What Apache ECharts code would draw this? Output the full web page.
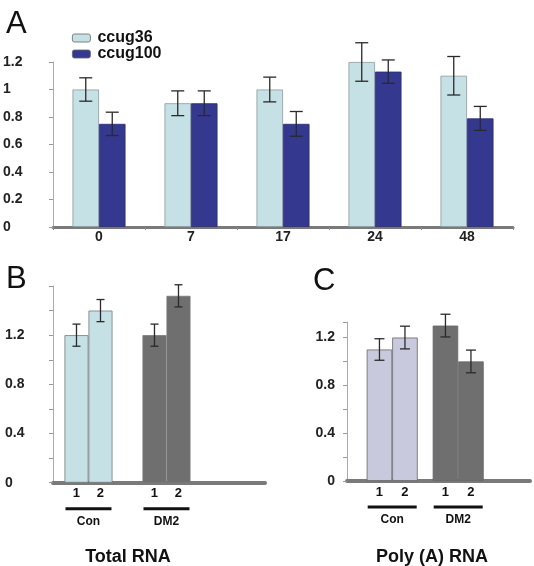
<!DOCTYPE html>
<html>
<head>
<meta charset="utf-8">
<script src="https://cdn.jsdelivr.net/npm/echarts@6/dist/echarts.min.js"></script>
<style>html,body{margin:0;padding:0;background:#fff}#c{width:534px;height:566px}</style>
</head>
<body>
<div id="c"></div>
<script>
// Panel A
var timepoints = ['0', '7', '17', '24', '48'];
var ccug36 = [1.0, 0.9, 1.0, 1.2, 1.1];
var ccug36Err = [0.085, 0.09, 0.09, 0.14, 0.14];
var ccug100 = [0.75, 0.9, 0.75, 1.13, 0.79];
var ccug100Err = [0.085, 0.09, 0.09, 0.085, 0.087];
// Panel B (Total RNA)
var groups = ['Con', 'DM2'];
var replicates = ['1', '2'];
var totalRep1 = [1.2, 1.2];
var totalRep1Err = [0.09, 0.09];
var totalRep2 = [1.4, 1.52];
var totalRep2Err = [0.09, 0.09];
// Panel C (Poly (A) RNA)
var polyRep1 = [1.1, 1.3];
var polyRep1Err = [0.09, 0.095];
var polyRep2 = [1.2, 1.0];
var polyRep2Err = [0.095, 0.095];
// labelled y ticks for panels B and C
var bcTickLabels = [0, 0.4, 0.8, 1.2];

var FONT = 'Liberation Sans';
var chart = echarts.init(document.getElementById('c'), null, {renderer: 'canvas'});

function errSeries(name, xIdx, yIdx, vals, errs, offset, half) {
  return {
    type: 'custom', name: name, xAxisIndex: xIdx, yAxisIndex: yIdx, z: 10, silent: true,
    data: vals.map(function (v, i) { return [i, v, errs[i]]; }),
    renderItem: function (params, api) {
      var x = api.value(0), v = api.value(1), e = api.value(2);
      var top = api.coord([x, v + e]);
      var bot = api.coord([x, v - e]);
      var cx = top[0] + offset;
      var st = {stroke: '#2a2a2a', lineWidth: 1.3};
      return {type: 'group', children: [
        {type: 'line', shape: {x1: cx, y1: top[1], x2: cx, y2: bot[1]}, style: st},
        {type: 'line', shape: {x1: cx - half, y1: top[1], x2: cx + half, y2: top[1]}, style: st},
        {type: 'line', shape: {x1: cx - half, y1: bot[1], x2: cx + half, y2: bot[1]}, style: st}
      ]};
    }
  };
}

function colored(vals, colors) {
  return vals.map(function (v, i) { return {value: [i, v], itemStyle: {color: colors[i]}}; });
}

var yLab = {fontFamily: FONT, fontWeight: 'bold', fontSize: 14, color: '#222'};
function bcLabel(v) {
  for (var i = 0; i < bcTickLabels.length; i++) {
    if (Math.abs(v - bcTickLabels[i]) < 1e-6) return v === 0 ? '0' : bcTickLabels[i].toFixed(1);
  }
  return '';
}

function groupLabelAxis(gridIdx, min, max, bw) {
  return {
    type: 'value', gridIndex: gridIdx, min: min, max: max,
    axisLine: {show: true, onZero: false, lineStyle: {color: '#7a7a7a', width: 4}},
    axisTick: {show: false}, splitLine: {show: false},
    axisLabel: {
      show: true, customValues: [0, 1], margin: 2,
      formatter: function (v) {
        var g = groups[Math.round(v)];
        return '{a|' + replicates[0] + '}{b|' + replicates[1] + '}\n{u| }\n{g|' + g + '}';
      },
      rich: {
        a: {width: bw, align: 'center', fontFamily: FONT, fontWeight: 'bold', fontSize: 13, color: '#111', lineHeight: 18},
        b: {width: bw, align: 'center', fontFamily: FONT, fontWeight: 'bold', fontSize: 13, color: '#111', lineHeight: 18},
        u: {width: bw * 2 - 2, height: 3, backgroundColor: '#111', fontSize: 1, lineHeight: 12},
        g: {align: 'center', fontFamily: FONT, fontWeight: 'bold', fontSize: 12, color: '#111', lineHeight: 14}
      }
    }
  };
}

function yAxisFor(gridIdx, max, labelCfg) {
  return {
    type: 'value', gridIndex: gridIdx, min: 0, max: max, interval: 0.2,
    axisLine: {show: true, onZero: false, lineStyle: {color: '#aaa', width: 1}},
    axisTick: {show: true, length: 4, lineStyle: {color: '#999'}},
    splitLine: {show: false},
    axisLabel: Object.assign(labelCfg, yLab)
  };
}

var option = {
  backgroundColor: '#fff',
  animation: false,
  title: [
    {text: 'A', left: 1, top: 4, textStyle: {fontFamily: FONT, fontWeight: 'normal', fontSize: 31, color: '#111'}},
    {text: 'B', left: 1, top: 259, textStyle: {fontFamily: FONT, fontWeight: 'normal', fontSize: 31, color: '#111'}},
    {text: 'C', left: 308, top: 261, textStyle: {fontFamily: FONT, fontWeight: 'normal', fontSize: 31, color: '#111'}},
    {text: 'Total RNA', left: 123, top: 543, textAlign: 'center', textStyle: {fontFamily: FONT, fontWeight: 'bold', fontSize: 18, color: '#111'}},
    {text: 'Poly (A) RNA', left: 427, top: 543, textAlign: 'center', textStyle: {fontFamily: FONT, fontWeight: 'bold', fontSize: 18, color: '#111'}}
  ],
  legend: {
    orient: 'vertical', left: 72, top: 30, padding: 0, itemWidth: 18, itemHeight: 8, itemGap: 0,
    data: ['ccug36', 'ccug100'],
    textStyle: {fontFamily: FONT, fontWeight: 'bold', fontSize: 16, color: '#111', padding: [0, 0, 0, 2]},
    itemStyle: {borderColor: '#666', borderWidth: 0.8}
  },
  grid: [
    {left: 53, right: 21, top: 62, height: 165},
    {left: 53, width: 212, top: 286, height: 196.7},
    {left: 347, width: 183, top: 322, height: 159}
  ],
  xAxis: [
    {
      type: 'category', gridIndex: 0, data: timepoints,
      axisLine: {lineStyle: {color: '#7a7a7a', width: 3}},
      axisTick: {show: true, length: 3, lineStyle: {color: '#888'}},
      axisLabel: {fontFamily: FONT, fontWeight: 'bold', fontSize: 14, color: '#222', margin: 3}
    },
    groupLabelAxis(1, -0.455, 2.263, 24),
    groupLabelAxis(2, -0.685, 2.088, 25.5)
  ],
  yAxis: [
    yAxisFor(0, 1.2, {align: 'left', margin: 50}),
    yAxisFor(1, 1.6, {align: 'left', margin: 48, formatter: bcLabel}),
    yAxisFor(2, 1.33, {align: 'right', margin: 12, formatter: bcLabel})
  ],
  series: [
    {name: 'ccug36', type: 'bar', xAxisIndex: 0, yAxisIndex: 0, data: ccug36, barWidth: 26.5, barGap: '0%',
      itemStyle: {color: '#c6e1e5', borderColor: '#8a9a9c', borderWidth: 0.8}},
    {name: 'ccug100', type: 'bar', xAxisIndex: 0, yAxisIndex: 0, data: ccug100, barWidth: 26.5, barGap: '0%',
      itemStyle: {color: '#35388f', borderColor: '#2a2c70', borderWidth: 0.8}},
    errSeries('e1', 0, 0, ccug36, ccug36Err, -13.25, 6.5),
    errSeries('e2', 0, 0, ccug100, ccug100Err, 13.25, 6.5),

    {name: 'tot1', type: 'bar', xAxisIndex: 1, yAxisIndex: 1, barWidth: 24, barGap: '0%',
      data: colored(totalRep1, ['#c6e1e5', '#6f6f6f']), itemStyle: {borderColor: '#777', borderWidth: 0.8}},
    {name: 'tot2', type: 'bar', xAxisIndex: 1, yAxisIndex: 1, barWidth: 24, barGap: '0%',
      data: colored(totalRep2, ['#c6e1e5', '#6f6f6f']), itemStyle: {borderColor: '#777', borderWidth: 0.8}},
    errSeries('e3', 1, 1, totalRep1, totalRep1Err, -12, 4),
    errSeries('e4', 1, 1, totalRep2, totalRep2Err, 12, 4),

    {name: 'poly1', type: 'bar', xAxisIndex: 2, yAxisIndex: 2, barWidth: 25.5, barGap: '0%',
      data: colored(polyRep1, ['#c9c9de', '#6f6f6f']), itemStyle: {borderColor: '#666', borderWidth: 0.8}},
    {name: 'poly2', type: 'bar', xAxisIndex: 2, yAxisIndex: 2, barWidth: 25.5, barGap: '0%',
      data: colored(polyRep2, ['#c9c9de', '#6f6f6f']), itemStyle: {borderColor: '#666', borderWidth: 0.8}},
    errSeries('e5', 2, 2, polyRep1, polyRep1Err, -12.75, 5),
    errSeries('e6', 2, 2, polyRep2, polyRep2Err, 12.75, 5)
  ]
};
chart.setOption(option);
</script>
</body>
</html>
